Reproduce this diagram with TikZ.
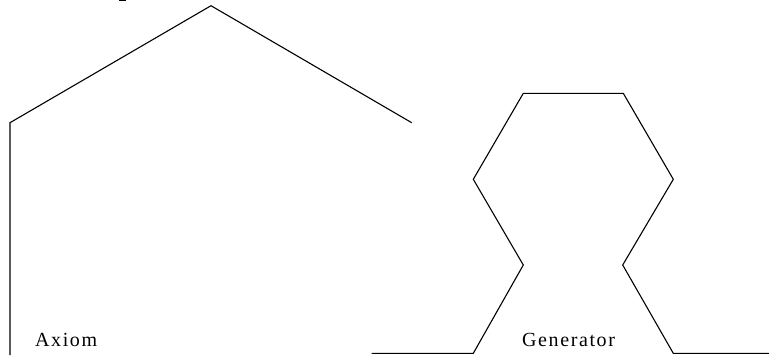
\documentclass[tikz,border=0pt]{standalone}
\usepackage{fontspec}
\setmainfont{Liberation Serif}
\begin{document}
\begin{tikzpicture}[x=1pt,y=-1pt,
  curve/.style={line width=1.1pt,line join=miter,black},
  lbl/.style={inner sep=0pt,anchor=base west,font=\fontsize{20}{20}\selectfont\addfontfeature{LetterSpace=8}}]
\useasboundingbox (0,0) rectangle (769,357);
% axiom
\draw[curve] (10,355) -- (10,122.7) -- (211,5.7) -- (411.7,122.7);
% small mark at the top edge
\draw[line width=1pt] (119,0.5) -- (126,0.5);
% generator
\draw[curve] (371.7,353.3) -- (473.3,353.3) -- (523.3,265) -- (473.3,179.3)
  -- (523.3,93.3) -- (623.3,93.3) -- (673.3,179.3) -- (622.7,265)
  -- (673.3,353.3) -- (769,353.3);
\node[lbl] (axiom) at (35,346.5) {Axiom};
\node[lbl] (gen) at (522,346.5) {Generator};
\end{tikzpicture}
\end{document}
